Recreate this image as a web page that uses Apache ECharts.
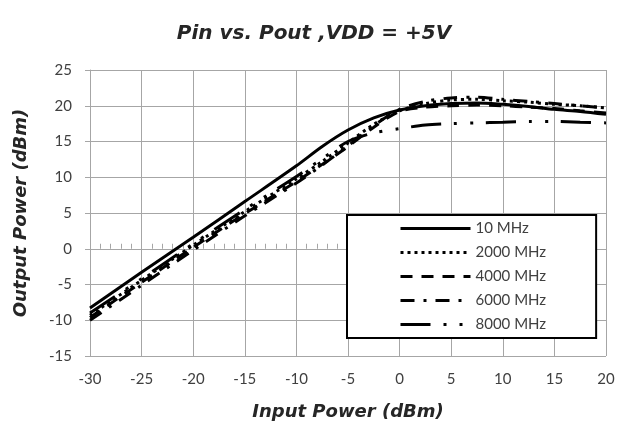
<!DOCTYPE html>
<html>
<head>
<meta charset="utf-8">
<script src="https://cdn.jsdelivr.net/npm/echarts@6/dist/echarts.min.js"></script>
<style>
html,body{margin:0;padding:0;background:#fff;}
#chart{width:628px;height:433px;}
</style>
</head>
<body>
<div id="chart"></div>
<script>
// Input power (dBm)
var pin = [-30, -25, -20, -15, -10, -7.5, -5, -2.5, 0, 2.5, 5, 7.5, 10, 12.5, 15, 17.5, 20];
// Output power (dBm) per frequency
var out10   = [-8.3, -3.3, 1.6, 6.6, 11.6, 14.3, 16.6, 18.3, 19.4, 20.0, 20.3, 20.4, 20.2, 19.9, 19.5, 19.2, 18.8];
var out2000 = [-9.3, -4.4, 0.5, 5.2, 9.8, 12.2, 14.8, 17.4, 19.3, 20.3, 20.8, 20.9, 20.7, 20.5, 20.2, 20.0, 19.7];
var out4000 = [-9.6, -4.7, 0.2, 4.9, 9.4, 11.8, 14.3, 17.0, 19.2, 19.8, 20.0, 20.1, 20.0, 19.8, 19.6, 19.3, 19.0];
var out6000 = [-10.0, -5.1, -0.2, 4.6, 9.2, 11.7, 14.4, 17.2, 19.5, 20.6, 21.1, 21.2, 20.9, 20.6, 20.3, 20.0, 19.7];
var out8000 = [-9.0, -4.2, 0.7, 5.5, 10.1, 12.6, 15.0, 16.2, 16.8, 17.3, 17.5, 17.6, 17.7, 17.8, 17.8, 17.7, 17.6];
var seriesNames = ['10 MHz', '2000 MHz', '4000 MHz', '6000 MHz', '8000 MHz'];
var xTicks = [-30, -25, -20, -15, -10, -5, 0, 5, 10, 15, 20];
var yTicks = [-15, -10, -5, 0, 5, 10, 15, 20, 25];

var allOut = [out10, out2000, out4000, out6000, out8000];
var dashes = ['solid', [3, 4], [12, 9], [14, 9, 3, 9], [30, 13, 3, 13, 3, 13]];

function pairs(ys) { return pin.map(function (x, i) { return [x, ys[i]]; }); }

var gridColor = '#a6a6a6';
var textColor = '#404040';
var font = 'Lato, "Liberation Sans", sans-serif';
var boldFont = '"DejaVu Sans", "Liberation Sans", sans-serif';

var series = allOut.map(function (ys, k) {
  return {
    name: seriesNames[k],
    type: 'line',
    data: pairs(ys),
    symbol: 'none',
    smooth: 0.3,
    xAxisIndex: 0,
    lineStyle: { color: '#000', width: 3, type: dashes[k], cap: 'butt' },
    itemStyle: { color: '#000' },
    z: 3
  };
});

var chart = echarts.init(document.getElementById('chart'), null, { renderer: 'canvas' });
chart.setOption({
  animation: false,
  backgroundColor: '#fff',
  title: {
    text: 'Pin vs. Pout ,VDD = +5V',
    left: 'center',
    top: 19,
    textStyle: { fontFamily: boldFont, fontStyle: 'italic', fontWeight: 'bold', fontSize: 20, color: '#262626' }
  },
  grid: { left: 90, right: 22, top: 70, bottom: 77, containLabel: false },
  legend: {
    orient: 'vertical',
    left: 347,
    top: 215,
    data: seriesNames,
    backgroundColor: '#fff',
    borderColor: '#000',
    borderWidth: 2,
    borderRadius: 0,
    padding: [6, 50, 6, 52],
    itemWidth: 70,
    itemHeight: 14,
    itemGap: 9,
    selectedMode: false,
    itemStyle: { opacity: 0 },
    lineStyle: { width: 3 },
    textStyle: { fontFamily: font, fontSize: 15, color: textColor },
    z: 10
  },
  xAxis: [{
    type: 'value',
    min: -30, max: 20, interval: 5,
    position: 'bottom',
    axisLine: { show: false, onZero: false },
    axisTick: { show: false },
    splitLine: { show: true, lineStyle: { color: gridColor, width: 1 } },
    axisLabel: { margin: 16, fontFamily: font, fontSize: 15, color: textColor },
    name: 'Input Power (dBm)',
    nameLocation: 'middle',
    nameGap: 47,
    nameTextStyle: { fontFamily: boldFont, fontStyle: 'italic', fontWeight: 'bold', fontSize: 18, color: '#262626' }
  }, {
    type: 'value',
    min: -30, max: 20, interval: 5,
    position: 'top',
    axisLine: { show: true, onZero: true, lineStyle: { color: gridColor, width: 1 } },
    axisTick: { show: true, length: 5, lineStyle: { color: gridColor } },
    minorTick: { show: true, splitNumber: 5, length: 5, lineStyle: { color: gridColor } },
    axisLabel: { show: false },
    splitLine: { show: false }
  }],
  yAxis: {
    type: 'value',
    min: -15, max: 25, interval: 5,
    axisLine: { show: true, onZero: false, lineStyle: { color: gridColor, width: 1 } },
    axisTick: { show: true, length: 5, lineStyle: { color: gridColor } },
    splitLine: { show: true, lineStyle: { color: gridColor, width: 1 } },
    axisLabel: { margin: 18, fontFamily: font, fontSize: 15, color: textColor },
    name: 'Output Power (dBm)',
    nameLocation: 'middle',
    nameGap: 60,
    nameTextStyle: { fontFamily: boldFont, fontStyle: 'italic', fontWeight: 'bold', fontSize: 18, color: '#262626' }
  },
  series: series
});
</script>
</body>
</html>
